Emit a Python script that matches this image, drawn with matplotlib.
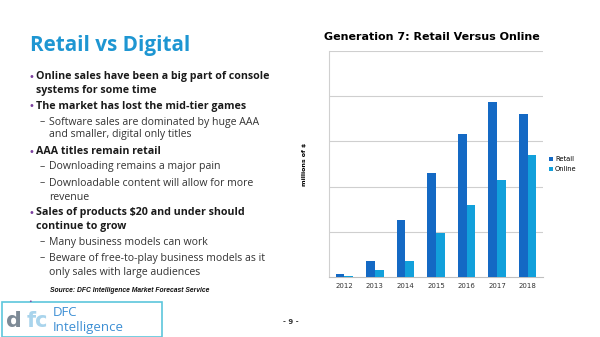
import numpy as np
import matplotlib.pyplot as plt
from matplotlib.patches import Rectangle

# chart data (millions of $, read in gridline units)
years = ['2012', '2013', '2014', '2015', '2016', '2017', '2018']
retail = [0.06, 0.36, 1.26, 2.31, 3.16, 3.87, 3.60]
online = [0.02, 0.15, 0.35, 0.97, 1.59, 2.15, 2.71]
series_names = ['Retail', 'Online']

# slide text
slide_title = 'Retail vs Digital'
bullets = [
    (0, 'Online sales have been a big part of console'),
    (0, 'systems for some time'),
    (0, 'The market has lost the mid-tier games'),
    (1, 'Software sales are dominated by huge AAA'),
    (1, 'and smaller, digital only titles'),
    (0, 'AAA titles remain retail'),
    (1, 'Downloading remains a major pain'),
    (1, 'Downloadable content will allow for more'),
    (1, 'revenue'),
    (0, 'Sales of products $20 and under should'),
    (0, 'continue to grow'),
    (1, 'Many business models can work'),
    (1, 'Beware of free-to-play business models as it'),
    (1, 'only sales with large audiences'),
]
line_y = [77, 90, 106, 122, 135, 152, 167, 183, 197, 213, 226, 242, 258, 272]
first_line = [True, False, True, True, False, True, True, True, False, True, False, True, True, False]

W, H = 600, 337
fig = plt.figure(figsize=(6, 3.37), dpi=100)
fig.patch.set_facecolor('white')

def px(x, y):
    return x / W, 1 - y / H

# slide title
fig.text(*px(30, 45), slide_title, color='#1e96d2', fontsize=14.9,
         fontweight='bold', family='Open Sans', va='center', ha='left')

for (lvl, txt), y, first in zip(bullets, line_y, first_line):
    if lvl == 0:
        if first:
            fig.text(*px(28, y), '•', color='#7b3f9e', fontsize=7, va='center', ha='left')
        fig.text(*px(36, y), txt, color='#1a1a1a', fontsize=7.65, fontweight='bold',
                 family='Open Sans', va='center', ha='left')
    else:
        if first:
            fig.text(*px(40, y), '–', color='#333333', fontsize=7.6,
                     family='Open Sans', va='center', ha='left')
        fig.text(*px(49, y), txt, color='#333333', fontsize=7.6,
                 family='Open Sans', va='center', ha='left')

fig.text(*px(50, 291), 'Source: DFC Intelligence Market Forecast Service', color='#111111',
         fontsize=4.9, fontweight='bold', style='italic', family='Liberation Sans',
         va='center', ha='left')
fig.text(*px(28, 301), '•', color='#7b3f9e', fontsize=4.5, va='center', ha='left')
fig.text(*px(291, 322), '- 9 -', color='#333333', fontsize=5, fontweight='bold',
         va='center', ha='center')

# logo box
bx, by = px(2, 337)
fig.patches.append(Rectangle((bx, by), 160 / W, 35 / H, transform=fig.transFigure,
                             fill=False, edgecolor='#5cc6dc', linewidth=1.2))
fig.text(*px(6, 321), 'd', color='#7d8a96', fontsize=16, fontweight='bold',
         family='DejaVu Sans', va='center', ha='left')
fig.text(*px(27, 321), 'fc', color='#a9d4ec', fontsize=15, fontweight='bold',
         family='DejaVu Sans', va='center', ha='left')
fig.text(*px(53, 313), 'DFC', color='#3d8fd4', fontsize=9.5, family='Open Sans',
         va='center', ha='left')
fig.text(*px(53, 328), 'Intelligence', color='#3d8fd4', fontsize=9.5, family='Open Sans',
         va='center', ha='left')

# chart
ax = fig.add_axes([329 / W, 1 - 277 / H, (543 - 329) / W, (277 - 51) / H])
x = np.arange(len(years))
bw = 0.285
ax.bar(x - bw / 2, retail, bw, color='#1469c4', label=series_names[0], zorder=3)
ax.bar(x + bw / 2, online, bw, color='#12a0db', label=series_names[1], zorder=3)
ax.set_xlim(-0.5, len(years) - 0.5)
ax.set_ylim(0, 5)
ax.set_yticks([1, 2, 3, 4, 5])
ax.set_yticklabels([])
ax.tick_params(axis='y', length=0)
ax.tick_params(axis='x', length=0, labelsize=5, colors='#333333', pad=4)
ax.set_xticks(x)
ax.set_xticklabels(years, family='DejaVu Sans')
ax.grid(axis='y', color='#cfcfcf', linewidth=0.8, zorder=0)
for s in ['top', 'right']:
    ax.spines[s].set_visible(False)
ax.spines['left'].set_color('#d0d0d0')
ax.spines['bottom'].set_color('#bfbfbf')
ax.set_ylabel('millions of $', fontsize=4.5, fontweight='bold', labelpad=12)
ax.set_title('Generation 7: Retail Versus Online', fontsize=8.0, fontweight='bold',
             family='DejaVu Sans', pad=8, x=0.48)
ax.legend(loc='center left', bbox_to_anchor=(1.0, 0.5), frameon=False, fontsize=4.8,
          handlelength=0.6, handleheight=0.6, handletextpad=0.3, labelspacing=0.6)

fig.savefig('out.png', dpi=100)
